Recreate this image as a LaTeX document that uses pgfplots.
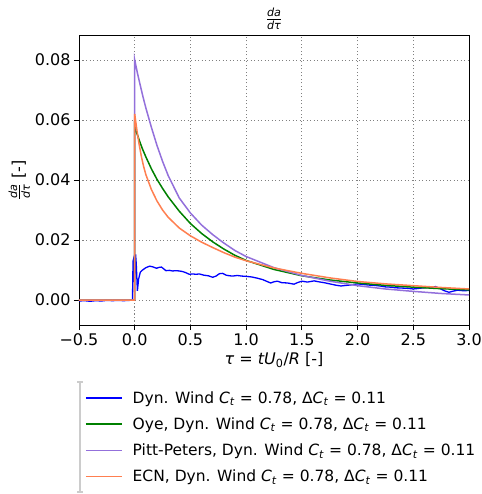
\documentclass[border=0pt]{standalone}
\usepackage{amsmath}
\usepackage{fontspec}
\setmainfont{DejaVu Sans}
\usepackage{pgfplots}
\pgfplotsset{compat=1.18}
\definecolor{mpblue}{RGB}{0,0,255}
\definecolor{mpgreen}{RGB}{0,128,0}
\definecolor{mppurple}{RGB}{147,112,219}
\definecolor{mpcoral}{RGB}{255,127,80}
\newcommand{\Ct}{\textit{C}\textsubscript{\textit{t}}}
\begin{document}
\begin{tikzpicture}
\begin{axis}[
  name=ax,
  scale only axis,
  width=390pt, height=290pt,
  xmin=-0.5, xmax=3.0,
  ymin=-0.0083, ymax=0.0883,
  font=\fontsize{16}{19}\selectfont,
  xtick={-0.5,0,0.5,1,1.5,2,2.5,3},
  xticklabels={−0.5,0.0,0.5,1.0,1.5,2.0,2.5,3.0},
  ytick={0,0.02,0.04,0.06,0.08},
  yticklabels={0.00,0.02,0.04,0.06,0.08},
  scaled y ticks=false,
  tick align=outside,
  tick pos=left,
  major tick length=5pt,
  tick style={black, line width=0.8pt},
  axis line style={black, line width=0.8pt},
  grid=major,
  major grid style={gray, line width=0.8pt, dash pattern=on 1.3pt off 2.2pt},
  title={$\frac{\textit{da}}{\textit{dτ}}$},
  title style={yshift=-4pt},
  xlabel={\textit{τ} = \textit{tU}\textsubscript{0}/\textit{R} [-]},
  ylabel={$\frac{\textit{da}}{\textit{dτ}}$ [-]},
  ylabel style={yshift=-2pt},
  legend style={at={(axis description cs:0.0,-0.214)}, anchor=north west, draw=none, fill=none,
    font=\fontsize{15.5}{18}\selectfont, row sep=9pt, column sep=8pt, inner xsep=6pt},
  legend cell align=left,
  legend image code/.code={\draw[#1, line width=1.5pt] (0pt,0pt) -- (36pt,0pt);},
]
\addplot[mpblue, line width=1.3pt] coordinates {
(-0.5,-0.0003) (-0.45,-0.0002) (-0.4,-0.0004) (-0.35,-0.0002) (-0.3,-0.0003) (-0.25,-0.0001)
(-0.2,-0.0002) (-0.15,-0.0001) (-0.1,-0.0002) (-0.05,-0.0001) (-0.02,0.0) (-0.015,0.013)
(-0.008,0.014) (-0.004,0.006) (0.004,0.010) (0.008,0.0152) (0.014,0.012) (0.024,0.0031)
(0.035,0.007) (0.05,0.0093) (0.07,0.0100) (0.1,0.0108) (0.134,0.0113) (0.16,0.0111)
(0.195,0.0106) (0.22,0.0109) (0.24,0.0110) (0.26,0.0104) (0.28,0.0098) (0.31,0.0099)
(0.34,0.0097) (0.37,0.0098) (0.4,0.0097) (0.43,0.0095) (0.46,0.0091) (0.49,0.0086)
(0.52,0.0087) (0.55,0.0086) (0.58,0.0087) (0.62,0.0083) (0.66,0.0081) (0.70,0.0076)
(0.73,0.0080) (0.76,0.0088) (0.79,0.0089) (0.82,0.0083) (0.85,0.0081) (0.88,0.0080)
(0.92,0.0082) (0.96,0.0080) (1.0,0.0079) (1.05,0.0077) (1.1,0.0073) (1.15,0.0068)
(1.2,0.0060) (1.22,0.0057) (1.25,0.0061) (1.28,0.0063) (1.32,0.0058) (1.37,0.0057)
(1.4,0.0055) (1.43,0.0053) (1.46,0.0058) (1.5,0.0063) (1.55,0.0060) (1.61,0.0064)
(1.65,0.0061) (1.7,0.0058) (1.75,0.0054) (1.8,0.0050) (1.85,0.0047) (1.9,0.0049)
(1.95,0.0051) (2.0,0.0054) (2.05,0.0052) (2.1,0.0050) (2.15,0.0049) (2.2,0.0047)
(2.25,0.0044) (2.3,0.0043) (2.34,0.0041) (2.4,0.0040) (2.45,0.0039) (2.5,0.0037)
(2.55,0.0039) (2.6,0.0041) (2.65,0.0042) (2.7,0.0045) (2.73,0.0040) (2.78,0.0031)
(2.82,0.0026) (2.86,0.0030) (2.9,0.0033) (2.95,0.0031) (3.0,0.0032)
};
\addlegendentry{Dyn. Wind \Ct{} = 0.78, Δ\Ct{} = 0.11}
\addplot[mpgreen, line width=1.5pt] coordinates {
(-0.5,0) (0,0) (0,0.058) (0.02,0.0555) (0.04,0.0533) (0.07,0.0503) (0.1,0.0477)
(0.15,0.0437) (0.2,0.0402) (0.25,0.0372) (0.3,0.0344) (0.4,0.0296) (0.5,0.0255)
(0.6,0.0222) (0.7,0.0194) (0.8,0.0170) (0.9,0.0149) (1.0,0.0132) (1.25,0.0102)
(1.5,0.0081) (1.75,0.0067) (2.0,0.0057) (2.25,0.0049) (2.5,0.0043) (2.75,0.0038) (3.0,0.0034)
};
\addlegendentry{Oye, Dyn. Wind \Ct{} = 0.78, Δ\Ct{} = 0.11}
\addplot[mppurple, line width=1.5pt] coordinates {
(-0.5,0) (0,0) (0,0.080) (0.025,0.0755) (0.05,0.0715) (0.075,0.0676) (0.1,0.0640)
(0.15,0.0575) (0.2,0.0515) (0.25,0.0462) (0.3,0.0415) (0.4,0.0340) (0.5,0.0290)
(0.6,0.0250) (0.7,0.0218) (0.8,0.0190) (0.9,0.0165) (1.0,0.0145) (1.25,0.0108)
(1.5,0.0082) (1.75,0.0063) (2.0,0.0048) (2.25,0.0037) (2.5,0.0029) (2.75,0.0022) (3.0,0.0017)
};
\addlegendentry{Pitt-Peters, Dyn. Wind \Ct{} = 0.78, Δ\Ct{} = 0.11}
\addplot[mpcoral, line width=1.5pt] coordinates {
(-0.5,0) (0,0) (0,0.062) (0.02,0.0565) (0.04,0.0518) (0.06,0.0478) (0.08,0.0445)
(0.1,0.0418) (0.15,0.0368) (0.2,0.0330) (0.25,0.0300) (0.3,0.0276) (0.4,0.0240)
(0.5,0.0214) (0.6,0.0193) (0.7,0.0175) (0.8,0.0158) (0.9,0.0143) (1.0,0.0131)
(1.25,0.0107) (1.5,0.0089) (1.75,0.0074) (2.0,0.0062) (2.25,0.0054) (2.5,0.0048)
(2.75,0.0042) (3.0,0.0037)
};
\addlegendentry{ECN, Dyn. Wind \Ct{} = 0.78, Δ\Ct{} = 0.11}
\end{axis}
\draw[black!20, line width=1.5pt] ([xshift=1pt,yshift=-57pt]ax.south west) -- ++(0,-110pt);
\draw[black!20, line width=1.2pt] ([xshift=-2pt,yshift=-57pt]ax.south west) -- ++(6pt,0);
\draw[black!20, line width=1.2pt] ([xshift=-2pt,yshift=-167pt]ax.south west) -- ++(6pt,0);
\pgfresetboundingbox
\path ([xshift=-79pt,yshift=-169pt]ax.south west) rectangle ([xshift=13pt,yshift=35pt]ax.north east);
\end{tikzpicture}
\end{document}
